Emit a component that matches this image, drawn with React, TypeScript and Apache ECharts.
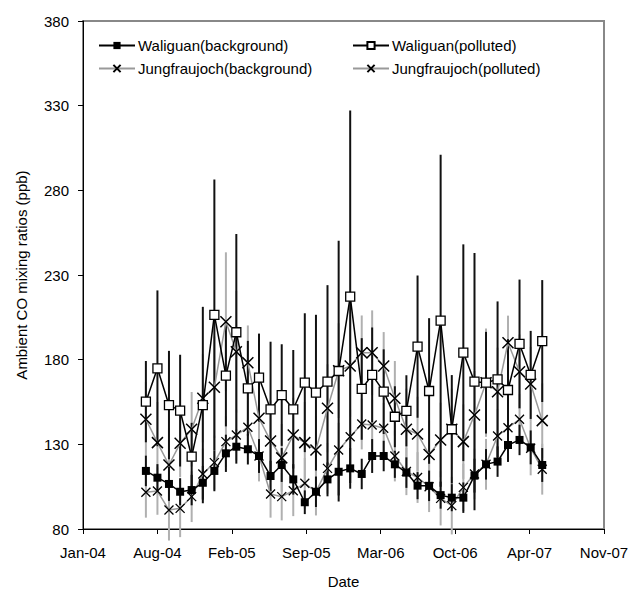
import React, { useEffect, useRef } from "react";
import * as echarts from "echarts";

// ---- data ----
const months = [
  "2004-07", "2004-08", "2004-09", "2004-10", "2004-11", "2004-12",
  "2005-01", "2005-02", "2005-03", "2005-04", "2005-05", "2005-06",
  "2005-07", "2005-08", "2005-09", "2005-10", "2005-11", "2005-12",
  "2006-01", "2006-02", "2006-03", "2006-04", "2006-05", "2006-06",
  "2006-07", "2006-08", "2006-09", "2006-10", "2006-11", "2006-12",
  "2007-01", "2007-02", "2007-03", "2007-04", "2007-05", "2007-06",
];

const waliguanBg = [
  114.3, 110.3, 106.6, 102, 103, 107.3, 114.3, 124.7, 128.6, 127.1, 123.1, 111.3,
  117.8, 109.3, 95.8, 102, 109.3, 113.8, 115.8, 112.5, 123.1, 123.1, 118.2, 113.3,
  105.6, 105.5, 100, 98.5, 98.5, 111.5, 118.2, 119.8, 129.6, 132.6, 128.2, 117.8,
];
const waliguanBgErr = [
  9, 8, 10, 8, 9, 10, 12, 11, 10, 9, 10, 9,
  10, 9, 7, 9, 10, 14, 12, 9, 10, 9, 8, 9,
  8, 9, 8, 8, 9, 10, 9, 9, 10, 9, 10, 10,
];

const waliguanPol = [
  155.2, 174.9, 153.2, 149.9, 122.7, 153.2, 206.4, 170.6, 196.2, 163.1, 169.4, 150.6,
  159.1, 150.7, 166.4, 160.5, 167, 173.3, 217.2, 162.7, 171, 161.1, 146.3, 149.8,
  187.7, 161.5, 203, 138.9, 184.1, 167, 166.4, 168.4, 162.1, 189.3, 171, 191,
];
const waliguanPolErr = [
  24, 46, 32, 33, 20, 58, 80, 30, 58, 28, 26, 40,
  30, 35, 41, 46, 57, 77, 110, 30, 28, 25, 18, 21,
  42, 43, 98, 32, 64, 76, 30, 46, 30, 38, 26, 36,
];

const jungBg = [
  101.7, 102.4, 91.2, 92.2, 99.1, 112.5, 119.2, 131.6, 135.5, 140.1, 123.1, 100.7,
  99.1, 102.6, 107, 102, 115.8, 126.7, 134.5, 142, 141.4, 139.5, 123.1, 114,
  110.4, 105, 98.1, 93.8, 104.6, 112.5, 118.2, 134.9, 139.8, 144.8, 127.7, 115.3,
];
const jungBgErr = [
  15, 14, 18, 17, 15, 15, 16, 15, 15, 16, 15, 14,
  14, 15, 15, 14, 15, 16, 16, 15, 15, 15, 15, 14,
  15, 15, 16, 17, 14, 15, 15, 16, 15, 15, 16, 15,
];

const jungPol = [
  144.8, 131, 117.8, 130.6, 138.9, 157.2, 163.7, 202.4, 184.7, 178.2, 145.4, 132,
  122, 135.5, 131, 126.7, 151.3, 173.5, 176.3, 184.1, 184.1, 176.3, 157.2, 138.9,
  136.1, 124, 132.6, 138.9, 131.6, 147.3, 166.4, 161.1, 190, 172.9, 165.6, 144,
];
const jungPolErr = [
  22, 24, 22, 20, 22, 26, 30, 41, 36, 22, 22, 24,
  20, 22, 24, 20, 26, 28, 30, 22, 25, 20, 22, 24,
  22, 20, 22, 24, 22, 26, 32, 26, 16, 22, 22, 22,
];

const xTickLabels = ["Jan-04", "Aug-04", "Feb-05", "Sep-05", "Mar-06", "Oct-06", "Apr-07", "Nov-07"];
const X_ORIGIN = Date.UTC(2004, 0, 14); // date at the left end of the axis
const X_STEP_DAYS = 200;
const Y_MIN = 80;
const Y_MAX = 380;
const Y_STEP = 50;

const FONT = "'Liberation Sans', Arial, sans-serif";

function dayOf(m: string): number {
  const [y, mo] = m.split("-").map(Number);
  return (Date.UTC(y, mo - 1, 1) - X_ORIGIN) / 86400000;
}

const xDays = months.map(dayOf);

function lineData(vals: number[]) {
  return vals.map((v, i) => [xDays[i], v - Y_MIN]);
}
function errData(vals: number[], errs: number[]) {
  return vals.map((v, i) => [xDays[i], v - errs[i] - Y_MIN, v + errs[i] - Y_MIN]);
}

function errSeries(name: string, vals: number[], errs: number[], color: string) {
  return {
    type: "custom",
    name: name + "-err",
    z: 1,
    silent: true,
    clip: false,
    data: errData(vals, errs),
    encode: { x: 0, y: [1, 2] },
    renderItem: (params: any, api: any) => {
      const x = api.value(0);
      const p1 = api.coord([x, api.value(1)]);
      const p2 = api.coord([x, api.value(2)]);
      return {
        type: "line",
        shape: { x1: p1[0], y1: p1[1], x2: p2[0], y2: p2[1] },
        style: { stroke: color, lineWidth: 2 },
      };
    },
  };
}

const XSYM = "path://M0,0L10,10M10,0L0,10";

export default function App() {
  const ref = useRef<HTMLDivElement>(null);
  useEffect(() => {
    if (!ref.current) return;
    const chart = echarts.init(ref.current, null, { renderer: "svg" });
    const BLACK_ERR = "#111";
    const GRAY_ERR = "#b0b0b0";
    const legendBase = {
      itemWidth: 36,
      itemHeight: 9,
      itemGap: 0,
      textStyle: { fontSize: 15, fontFamily: FONT, color: "#000", padding: [0, 0, 0, -2] },
      padding: 0,
    };
    chart.setOption({
      animation: false,
      backgroundColor: "#fff",
      grid: {
        left: 83,
        right: 28,
        top: 21,
        bottom: 71,
        show: true,
        borderColor: "#888",
        borderWidth: 2,
      },
      legend: [
        { ...legendBase, data: ["Waliguan(background)"], left: 98, top: 38 },
        { ...legendBase, data: ["Waliguan(polluted)"], left: 352, top: 38 },
        { ...legendBase, data: ["Jungfraujoch(background)"], left: 98, top: 61 },
        { ...legendBase, data: ["Jungfraujoch(polluted)"], left: 352, top: 61 },
      ],
      xAxis: {
        type: "value",
        min: 0,
        max: X_STEP_DAYS * (xTickLabels.length - 1),
        interval: X_STEP_DAYS,
        name: "Date",
        nameLocation: "middle",
        nameGap: 45,
        nameTextStyle: { fontSize: 15, fontFamily: FONT, color: "#000" },
        axisLine: { lineStyle: { color: "#000", width: 1 } },
        axisTick: { show: true, length: 5, lineStyle: { color: "#000" } },
        axisLabel: {
          fontSize: 15,
          fontFamily: FONT,
          color: "#000",
          margin: 16,
          formatter: (v: number) => xTickLabels[Math.round(v / X_STEP_DAYS)] ?? "",
        },
        splitLine: { show: false },
      },
      yAxis: {
        type: "value",
        min: 0,
        max: Y_MAX - Y_MIN,
        interval: Y_STEP,
        name: "Ambient CO mixing ratios (ppb)",
        nameLocation: "middle",
        nameGap: 54,
        nameTextStyle: { fontSize: 15, fontFamily: FONT, color: "#000" },
        axisLine: { show: true, lineStyle: { color: "#000", width: 1 } },
        axisTick: { show: true, length: 5, lineStyle: { color: "#000" } },
        axisLabel: {
          fontSize: 15,
          fontFamily: FONT,
          color: "#000",
          margin: 14,
          formatter: (v: number) => String(v + Y_MIN),
        },
        splitLine: { show: false },
      },
      series: [
        errSeries("Jungfraujoch(background)", jungBg, jungBgErr, GRAY_ERR),
        errSeries("Jungfraujoch(polluted)", jungPol, jungPolErr, GRAY_ERR),
        errSeries("Waliguan(background)", waliguanBg, waliguanBgErr, BLACK_ERR),
        errSeries("Waliguan(polluted)", waliguanPol, waliguanPolErr, BLACK_ERR),
        {
          type: "line",
          name: "Jungfraujoch(background)",
          z: 2,
          data: lineData(jungBg),
          symbol: XSYM,
          symbolSize: 9,
          lineStyle: { color: "#999", width: 1.5 },
          itemStyle: { color: "none", borderColor: "#000", borderWidth: 1.3 },
        },
        {
          type: "line",
          name: "Jungfraujoch(polluted)",
          z: 3,
          data: lineData(jungPol),
          symbol: XSYM,
          symbolSize: 11,
          lineStyle: { color: "#999", width: 1.5 },
          itemStyle: { color: "none", borderColor: "#000", borderWidth: 1.5 },
        },
        {
          type: "line",
          name: "Waliguan(background)",
          z: 4,
          data: lineData(waliguanBg),
          symbol: "rect",
          symbolSize: 8,
          lineStyle: { color: "#000", width: 1.5 },
          itemStyle: { color: "#000", borderColor: "#000", borderWidth: 0 },
        },
        {
          type: "line",
          name: "Waliguan(polluted)",
          z: 5,
          data: lineData(waliguanPol),
          symbol: "rect",
          symbolSize: 9,
          lineStyle: { color: "#000", width: 1.5 },
          itemStyle: { color: "#fff", borderColor: "#000", borderWidth: 1.3 },
        },
      ],
    });
    return () => chart.dispose();
  }, []);
  return (
    <div
      ref={ref}
      style={{ position: "fixed", left: 0, top: 0, width: 632, height: 600, background: "#fff" }}
    />
  );
}
